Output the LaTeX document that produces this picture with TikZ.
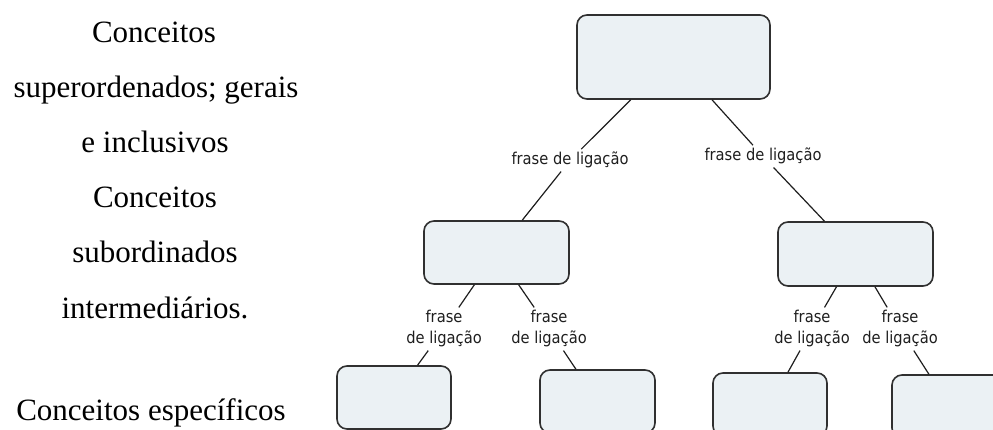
\documentclass[tikz,border=0pt]{standalone}
\usepackage{fontspec}
\setmainfont{Liberation Serif}
\newfontfamily\labfont[FakeStretch=0.9]{DejaVu Sans}
\definecolor{boxfill}{HTML}{EBF1F4}
\definecolor{boxline}{HTML}{303030}
\definecolor{linkcol}{HTML}{1E1E1E}
\begin{document}
\begin{tikzpicture}[x=1pt,y=-1pt,
  concept/.style={draw=boxline, fill=boxfill, line width=1.6pt, rounded corners=10pt, inner sep=0pt},
  linkphrase/.style={font=\labfont\fontsize{16.3}{21}\selectfont, align=center, inner sep=3pt, text=linkcol},
  conn/.style={line width=1.2pt, draw=linkcol},
  side/.style={font=\fontsize{31}{36}\selectfont, anchor=base, inner sep=0pt}]
\useasboundingbox (0,0) rectangle (993,430);
\clip (0,0) rectangle (993,430);

% left column text
\node[side] (l1) at (154,43) {Conceitos};
\node[side] (l2) at (156,98) {superordenados; gerais};
\node[side] (l3) at (155,153) {e inclusivos};
\node[side] (l4) at (155,208) {Conceitos};
\node[side] (l5) at (155,263) {subordinados};
\node[side] (l6) at (155,318) {intermediários.};
\node[side] (l7) at (151,420) {Conceitos específicos};

% concept boxes
\node[concept, minimum width=193pt, minimum height=84pt] (top) at (673.5,57) {};
\node[concept, minimum width=145pt, minimum height=63pt] (ml) at (496.5,252.5) {};
\node[concept, minimum width=155pt, minimum height=64pt] (mr) at (855.5,254) {};
\node[concept, minimum width=114pt, minimum height=63pt] (b1) at (394,397.5) {};
\node[concept, minimum width=115pt, minimum height=63pt] (b2) at (597.5,401.5) {};
\node[concept, minimum width=114pt, minimum height=63pt] (b3) at (770,404.5) {};
\node[concept, minimum width=115pt, minimum height=63pt] (b4) at (949.5,406.5) {};

% linking phrases
\node[linkphrase, anchor=base] (ltl) at (570,165) {frase de ligação};
\node[linkphrase, anchor=base] (ltr) at (763,161) {frase de ligação};
\node[linkphrase] (la) at (444,329) {frase\\de ligação};
\node[linkphrase] (lb) at (549,329) {frase\\de ligação};
\node[linkphrase] (lc) at (812,329) {frase\\de ligação};
\node[linkphrase] (ld) at (900,329) {frase\\de ligação};

% connectors
\draw[conn] (top) -- (ltl);
\draw[conn] (ltl) -- (ml);
\draw[conn] (top) -- (ltr);
\draw[conn] (ltr) -- (mr);
\draw[conn] (ml) -- (la);
\draw[conn] (la) -- (b1);
\draw[conn] (ml) -- (lb);
\draw[conn] (lb) -- (b2);
\draw[conn] (mr) -- (lc);
\draw[conn] (lc) -- (b3);
\draw[conn] (mr) -- (ld);
\draw[conn] (ld) -- (b4);
\end{tikzpicture}
\end{document}
